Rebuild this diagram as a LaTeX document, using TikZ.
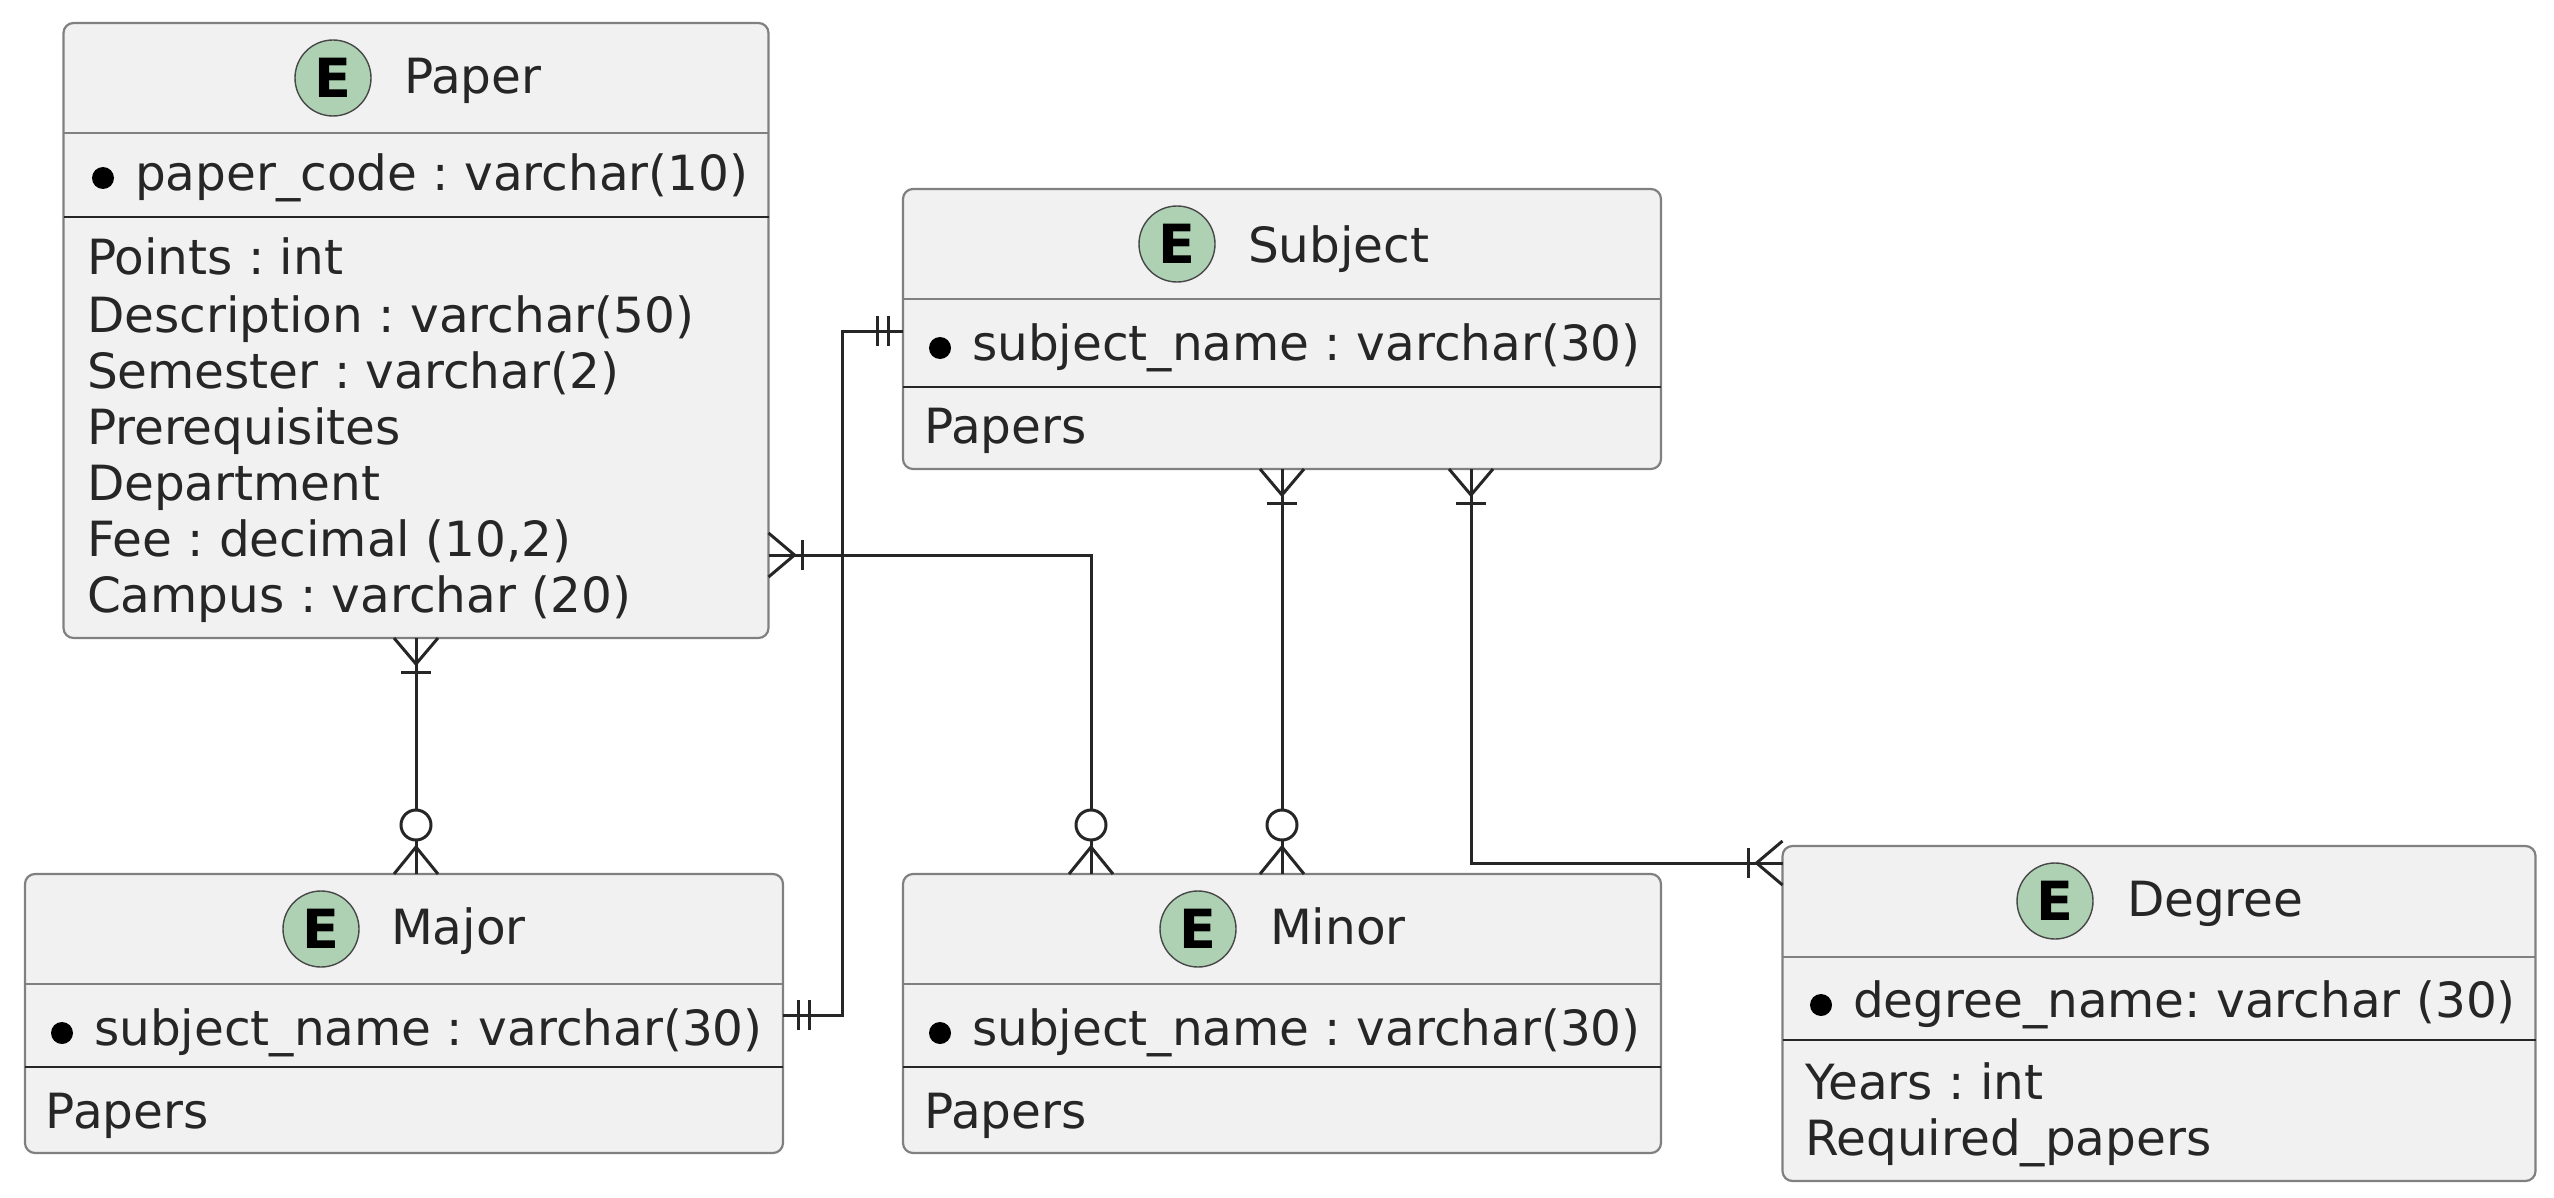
\documentclass[tikz,border=0pt]{standalone}
\usepackage{fontspec}
\setmainfont{DejaVu Sans}
\newfontfamily\spotfont{DejaVu Sans Bold}
\frenchspacing
\definecolor{boxfill}{HTML}{F1F1F1}
\definecolor{boxedge}{HTML}{808080}
\definecolor{ink}{HTML}{262626}
\definecolor{spotfill}{HTML}{ADD1B2}
\tikzset{
  x=0.5pt, y=-0.5pt,
  entity/.style={draw=boxedge, fill=boxfill, line width=1.1pt, rounded corners=5pt, inner sep=0pt, outer sep=0pt, anchor=north west},
  lightrule/.style={draw=boxedge, line width=1.1pt},
  darkrule/.style={draw=ink, line width=1.2pt},
  spot/.style={circle, draw=ink!85, line width=.7pt, fill=spotfill, minimum size=38pt, inner sep=0pt, text=black, font=\spotfont\fontsize{27}{27}\selectfont},
  label/.style={anchor=base west, inner sep=0pt, outer sep=0pt, text=ink, font=\fontsize{24.25}{28}\selectfont},
  link/.style={draw=ink, line width=1.5pt},
  tick/.style={draw=ink, line width=1.5pt},
  crowbar/.pic={\draw[tick] (0,-22) -- (26,0) -- (0,22); \draw[tick] (0,0) -- (26,0); \draw[tick] (34,-15) -- (34,15);},
  crowring/.pic={\draw[tick] (0,-22) -- (27,0) -- (0,22); \draw[tick] (0,0) -- (27,0); \draw[tick, fill=white] (49,0) circle (15);},
  twobars/.pic={\draw[tick] (15,-15) -- (15,15); \draw[tick] (26,-15) -- (26,15);}
}
\newcommand{\rulesat}[3]{%
  \draw[lightrule] (#1.west |- 0,#2) -- (#1.east |- 0,#2);
  \draw[darkrule] (#1.west |- 0,#3) -- (#1.east |- 0,#3);}
\begin{document}
\begin{tikzpicture}
\useasboundingbox (0,0) rectangle (2554,1198);

% Paper
\node[entity, minimum width=352.5pt, minimum height=307.5pt] (paper) at (63.5,23) {};
\rulesat{paper}{133}{217}
\node[spot] (paperspot) at (333,78) {E};
\node[label] (papertitle) at (404,94) {Paper};
\fill[black] (103,178) circle (11);
\node[label] (papera) at (135,191) {paper\_code : varchar(10)};
\node[label] (paperb) at (87,275) {Points : int};
\node[label] (paperc) at (87,332) {Description : varchar(50)};
\node[label] (paperd) at (87,388) {Semester : varchar(2)};
\node[label] (papere) at (87,444) {Prerequisites};
\node[label] (paperf) at (87,500) {Department};
\node[label] (paperg) at (87,556) {Fee : decimal (10,2)};
\node[label] (paperh) at (87,612) {Campus : varchar (20)};

% Subject
\node[entity, minimum width=379pt, minimum height=140pt] (subject) at (903,189) {};
\rulesat{subject}{299}{387}
\node[spot] (subjectspot) at (1177,244) {E};
\node[label] (subjecttitle) at (1248,263) {Subject};
\fill[black] (940,348) circle (11);
\node[label] (subjecta) at (972,360) {subject\_name : varchar(30)};
\node[label] (subjectb) at (924,443) {Papers};

% Major
\node[entity, minimum width=379pt, minimum height=139.5pt] (major) at (25,874) {};
\rulesat{major}{984}{1067}
\node[spot] (majorspot) at (321,929) {E};
\node[label] (majortitle) at (391,944) {Major};
\fill[black] (62,1033) circle (11);
\node[label] (majora) at (94,1045) {subject\_name : varchar(30)};
\node[label] (majorb) at (46,1128) {Papers};

% Minor
\node[entity, minimum width=379pt, minimum height=139.5pt] (minor) at (903,874) {};
\rulesat{minor}{984}{1067}
\node[spot] (minorspot) at (1198,929) {E};
\node[label] (minortitle) at (1270,944) {Minor};
\fill[black] (940,1033) circle (11);
\node[label] (minora) at (972,1045) {subject\_name : varchar(30)};
\node[label] (minorb) at (924,1128) {Papers};

% Degree
\node[entity, minimum width=376.5pt, minimum height=167.5pt] (degree) at (1782.5,846) {};
\rulesat{degree}{957}{1040}
\node[spot] (degreespot) at (2055,901) {E};
\node[label] (degreetitle) at (2127,916) {Degree};
\fill[black] (1821,1005) circle (11);
\node[label] (degreea) at (1853,1017) {degree\_name: varchar (30)};
\node[label] (degreeb) at (1805,1099) {Years : int};
\node[label] (degreec) at (1805,1155) {Required\_papers};

% Ports on the box borders
\coordinate (paperSouth) at (paper.south);
\coordinate (majorNorth) at (paper.south |- major.north);
\coordinate (paperEast) at (paper.east |- 0,555);
\coordinate (minorNorthA) at (1091,874);
\coordinate (subjectSouth) at (subject.south);
\coordinate (minorNorthB) at (subject.south |- minor.north);
\coordinate (subjectSouthB) at (1471,469);
\coordinate (degreeWest) at (degree.west |- 0,863);
\coordinate (subjectWest) at (subject.west |- 0,331);
\coordinate (majorEast) at (major.east |- 0,1015);
\coordinate (riser) at (842,331);

% Connectors
\draw[link] (paperSouth) -- (majorNorth);
\draw[link] (paperEast) -| (minorNorthA);
\draw[link] (subjectSouth) -- (minorNorthB);
\draw[link] (subjectSouthB) |- (degreeWest);
\draw[link] (subjectWest) -- (riser) |- (majorEast);

% Line ends
\pic[rotate=-90] at (paperSouth) {crowbar};
\pic[rotate=90] at (majorNorth) {crowring};
\pic at (paperEast) {crowbar};
\pic[rotate=90] at (minorNorthA) {crowring};
\pic[rotate=-90] at (subjectSouth) {crowbar};
\pic[rotate=90] at (minorNorthB) {crowring};
\pic[rotate=-90] at (subjectSouthB) {crowbar};
\pic[rotate=180] at (degreeWest) {crowbar};
\pic[rotate=180] at (subjectWest) {twobars};
\pic at (majorEast) {twobars};
\end{tikzpicture}
\end{document}
